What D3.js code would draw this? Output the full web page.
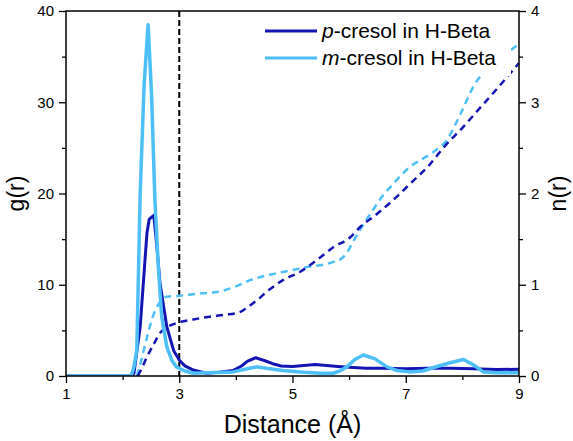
<!DOCTYPE html>
<html>
<head>
<meta charset="utf-8">
<script src="https://cdn.jsdelivr.net/npm/d3@7"></script>
<style>
  body { margin: 0; background: #fff; }
  svg text { font-family: "Liberation Sans", Arial, sans-serif; fill: #000; }
</style>
</head>
<body>
<div id="chart"></div>
<script>
// g(r) curves (solid)
const pGrX = [1, 2.17, 2.2, 2.31, 2.43, 2.47, 2.55, 2.6, 2.66, 2.78, 2.9, 3.0, 3.1, 3.25, 3.48, 3.7, 3.95, 4.1, 4.2, 4.35, 4.5, 4.65, 4.8, 5.0, 5.2, 5.4, 5.6, 5.8, 6.0, 6.3, 6.6, 7.0, 7.4, 7.8, 8.2, 8.6, 9.0];
const pGrY = [0, 0, 0.3, 5.4, 15.7, 17.2, 17.6, 14.5, 10.2, 5.4, 2.8, 1.75, 1.1, 0.65, 0.3, 0.4, 0.6, 1.1, 1.6, 2.0, 1.7, 1.35, 1.1, 1.05, 1.15, 1.25, 1.15, 1.05, 0.95, 0.85, 0.85, 0.8, 0.85, 0.85, 0.8, 0.7, 0.75];

const mGrX = [1, 2.15, 2.2, 2.25, 2.31, 2.38, 2.45, 2.51, 2.57, 2.63, 2.69, 2.78, 2.87, 2.95, 3.1, 3.25, 3.5, 3.95, 4.2, 4.37, 4.6, 4.83, 5.2, 5.5, 5.72, 5.85, 5.96, 6.1, 6.25, 6.45, 6.67, 6.85, 7.07, 7.3, 7.48, 7.75, 8.02, 8.2, 8.37, 8.6, 9.0];
const mGrY = [0, 0, 1.0, 2.8, 20, 32, 38.5, 31, 19.3, 12, 6.5, 3.2, 1.7, 1.0, 0.55, 0.3, 0.35, 0.45, 0.8, 1.0, 0.8, 0.6, 0.4, 0.3, 0.3, 0.6, 1.0, 1.8, 2.3, 1.9, 1.0, 0.6, 0.45, 0.55, 0.9, 1.4, 1.8, 1.2, 0.45, 0.35, 0.35];

// n(r) curves (dashed)
const pNrX = [2.27, 2.35, 2.43, 2.55, 2.66, 2.8, 3.01, 3.25, 3.54, 3.8, 4.07, 4.2, 4.37, 4.6, 4.83, 5.13, 5.43, 5.72, 6.02, 6.19, 6.5, 6.78, 7.1, 7.4, 7.69, 8.0, 8.3, 8.6, 9.0];
const pNrY = [0, 0.1, 0.21, 0.35, 0.47, 0.54, 0.59, 0.62, 0.65, 0.67, 0.7, 0.75, 0.83, 0.95, 1.05, 1.14, 1.27, 1.41, 1.52, 1.63, 1.78, 1.93, 2.12, 2.3, 2.52, 2.72, 2.93, 3.14, 3.43];

const mNrX = [2.25, 2.32, 2.4, 2.47, 2.55, 2.65, 2.78, 3.01, 3.3, 3.66, 3.95, 4.25, 4.6, 5.0, 5.31, 5.55, 5.72, 5.85, 5.96, 6.05, 6.19, 6.4, 6.6, 6.8, 6.95, 7.07, 7.3, 7.5, 7.73, 7.95, 8.22, 8.5, 8.75, 9.0];
const mNrY = [0, 0.15, 0.35, 0.52, 0.68, 0.8, 0.87, 0.88, 0.9, 0.92, 0.97, 1.05, 1.11, 1.16, 1.2, 1.22, 1.25, 1.28, 1.35, 1.45, 1.6, 1.8, 1.98, 2.12, 2.22, 2.29, 2.38, 2.46, 2.59, 2.85, 3.2, 3.4, 3.52, 3.64];

const xTicks = [1, 3, 5, 7, 9];
const xMinor = [2, 4, 6, 8];
const gTicks = [0, 10, 20, 30, 40];
const gMinor = [5, 15, 25, 35];
const nTicks = [0, 1, 2, 3, 4];
const nMinor = [0.5, 1.5, 2.5, 3.5];

const seriesNames = ["p-cresol in H-Beta", "m-cresol in H-Beta"];
const darkBlue = "#1414b4";
const lightBlue = "#4dbff7";

const W = 573, H = 441;
const margin = { top: 11, right: 54, bottom: 65, left: 66 };
const iw = W - margin.left - margin.right;
const ih = H - margin.top - margin.bottom;

const svg = d3.select('#chart').append('svg')
  .attr('width', W).attr('height', H);

const g = svg.append('g').attr('transform', `translate(${margin.left},${margin.top})`);

const x = d3.scaleLinear().domain([1, 9]).range([0, iw]);
const yG = d3.scaleLinear().domain([0, 40]).range([ih, 0]);
const yN = d3.scaleLinear().domain([0, 4]).range([ih, 0]);

const defs = svg.append('defs');
defs.append('clipPath').attr('id', 'clip')
  .append('rect').attr('x', 0).attr('y', -2).attr('width', iw).attr('height', ih + 2);

const plot = g.append('g').attr('clip-path', 'url(#clip)');

// vertical dashed marker at 3 Å
plot.append('line')
  .attr('x1', x(3)).attr('x2', x(3))
  .attr('y1', 0).attr('y2', ih)
  .attr('stroke', '#000').attr('stroke-width', 2)
  .attr('stroke-dasharray', '6,3');

const lineN = d3.line().x(d => x(d[0])).y(d => yN(d[1])).curve(d3.curveMonotoneX);
const lineG = d3.line().x(d => x(d[0])).y(d => yG(d[1]));

const zip = (a, b) => a.map((v, i) => [v, b[i]]);

plot.append('path').datum(zip(mNrX, mNrY))
  .attr('d', lineN).attr('fill', 'none')
  .attr('stroke', lightBlue).attr('stroke-width', 2.5).attr('stroke-dasharray', '7,5');
plot.append('path').datum(zip(pNrX, pNrY))
  .attr('d', lineN).attr('fill', 'none')
  .attr('stroke', darkBlue).attr('stroke-width', 2.5).attr('stroke-dasharray', '7,5');

plot.append('path').datum(zip(pGrX, pGrY))
  .attr('d', lineG)
  .attr('fill', 'none').attr('stroke', darkBlue).attr('stroke-width', 3)
  .attr('stroke-linejoin', 'round');
plot.append('path').datum(zip(mGrX, mGrY))
  .attr('d', lineG)
  .attr('fill', 'none').attr('stroke', lightBlue).attr('stroke-width', 3.5)
  .attr('stroke-linejoin', 'round');

// axes
function styleAxis(sel) {
  sel.select('.domain').remove();
  sel.selectAll('line').attr('stroke', '#000').attr('stroke-width', 1.3);
  sel.selectAll('text').style('font-size', '15px');
}

g.append('g').attr('transform', `translate(0,${ih})`)
  .call(d3.axisBottom(x).tickValues(xTicks).tickSize(7).tickPadding(5).tickFormat(d3.format('d')))
  .call(styleAxis);
g.append('g').attr('transform', `translate(0,${ih})`)
  .call(d3.axisBottom(x).tickValues(xMinor).tickSize(4).tickFormat(''))
  .call(styleAxis);

g.append('g')
  .call(d3.axisLeft(yG).tickValues(gTicks).tickSize(7).tickPadding(5).tickFormat(d3.format('d')))
  .call(styleAxis);
g.append('g')
  .call(d3.axisLeft(yG).tickValues(gMinor).tickSize(4).tickFormat(''))
  .call(styleAxis);

g.append('g').attr('transform', `translate(${iw},0)`)
  .call(d3.axisRight(yN).tickValues(nTicks).tickSize(7).tickPadding(5).tickFormat(d3.format('d')))
  .call(styleAxis);
g.append('g').attr('transform', `translate(${iw},0)`)
  .call(d3.axisRight(yN).tickValues(nMinor).tickSize(4).tickFormat(''))
  .call(styleAxis);

// legend (white box hides lines behind it)
const legend = svg.append('g').attr('transform', 'translate(265,31)');
legend.append('rect').attr('x', -4).attr('y', -15).attr('width', 250).attr('height', 60)
  .attr('fill', '#fff');
[darkBlue, lightBlue].forEach((c, i) => {
  const row = legend.append('g').attr('transform', `translate(0,${i * 27})`);
  row.append('line').attr('x1', 0).attr('x2', 52).attr('y1', 0).attr('y2', 0)
    .attr('stroke', c).attr('stroke-width', 3);
  const t = row.append('text').attr('x', 57).attr('y', 7).style('font-size', '21px');
  const parts = seriesNames[i].split('-');
  t.append('tspan').style('font-style', 'italic').text(parts[0]);
  t.append('tspan').text('-' + parts.slice(1).join('-'));
});

// frame
g.append('rect').attr('x', 0).attr('y', 0).attr('width', iw).attr('height', ih)
  .attr('fill', 'none').attr('stroke', '#000').attr('stroke-width', 1.5);

// axis titles
svg.append('text')
  .attr('transform', `translate(24,${margin.top + ih / 2}) rotate(-90)`)
  .attr('text-anchor', 'middle').style('font-size', '23px').text('g(r)');
svg.append('text')
  .attr('transform', `translate(566,${margin.top + ih / 2}) rotate(-90)`)
  .attr('text-anchor', 'middle').style('font-size', '23px').text('n(r)');
svg.append('text')
  .attr('x', margin.left + iw / 2).attr('y', 433)
  .attr('text-anchor', 'middle').style('font-size', '25px').text('Distance (Å)');
</script>
</body>
</html>
